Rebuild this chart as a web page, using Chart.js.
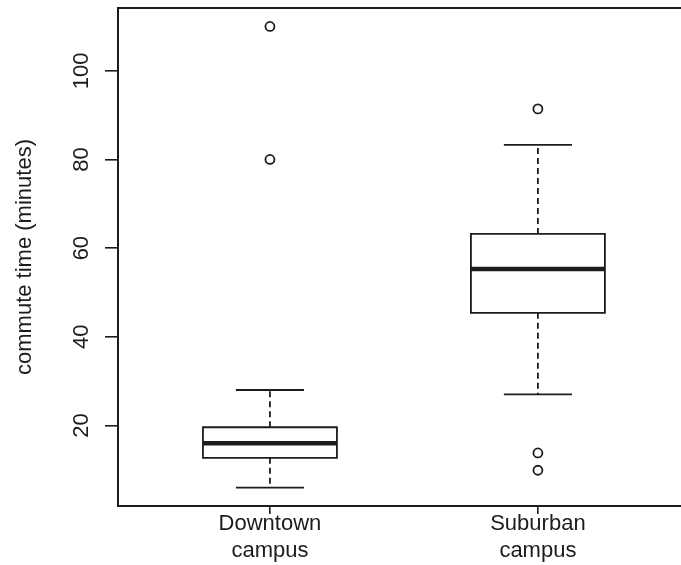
<!DOCTYPE html>
<html><head><meta charset="utf-8">
<script src="https://cdn.jsdelivr.net/npm/chart.js@4/dist/chart.umd.min.js"></script>
<style>html,body{margin:0;padding:0;background:#fff}#c{display:block}</style>
</head><body>
<canvas id="c" width="681" height="565"></canvas>
<script>
// ---- data ----
const categories = [["Downtown", "campus"], ["Suburban", "campus"]];
const lowerWhisker = [6, 27];
const q1 = [12.7, 45.4];
const median = [16, 55.3];
const q3 = [19.6, 63.2];
const upperWhisker = [28, 83.3];
const outliers = [[80, 110], [9.9, 13.8, 91.4]];
const yTicks = [20, 40, 60, 80, 100];
const yTitle = "commute time (minutes)";

// ---- styling ----
const BOX_HALF = 0.25, CAP_HALF = 0.127;
const INK = '#1c1c1c';
const FONT = "'Liberation Sans', Arial, Helvetica, sans-serif";
const X_MIN = 0.433, X_MAX = 2.534, Y_MIN = 1.84, Y_MAX = 114.16;

const boxPts = [], medPts = [], whiskPts = [], capPts = [], outPts = [];
categories.forEach((_, i) => {
  const c = i + 1;
  boxPts.push({x: c - BOX_HALF, y: q1[i]}, {x: c + BOX_HALF, y: q1[i]},
              {x: c + BOX_HALF, y: q3[i]}, {x: c - BOX_HALF, y: q3[i]},
              {x: c - BOX_HALF, y: q1[i]}, {x: c, y: null});
  medPts.push({x: c - BOX_HALF, y: median[i]}, {x: c + BOX_HALF, y: median[i]}, {x: c, y: null});
  whiskPts.push({x: c, y: q3[i]}, {x: c, y: upperWhisker[i]}, {x: c, y: null},
                {x: c, y: q1[i]}, {x: c, y: lowerWhisker[i]}, {x: c, y: null});
  capPts.push({x: c - CAP_HALF, y: upperWhisker[i]}, {x: c + CAP_HALF, y: upperWhisker[i]}, {x: c, y: null},
              {x: c - CAP_HALF, y: lowerWhisker[i]}, {x: c + CAP_HALF, y: lowerWhisker[i]}, {x: c, y: null});
  outliers[i].forEach(v => outPts.push({x: c, y: v}));
});

const lineBase = {pointRadius: 0, borderColor: INK, fill: false, tension: 0, spanGaps: false,
                  borderCapStyle: 'square', borderJoinStyle: 'miter'};

new Chart(document.getElementById('c'), {
  type: 'line',
  data: {
    datasets: [
      Object.assign({}, lineBase, {data: whiskPts, borderWidth: 1.8, borderDash: [6, 4], borderCapStyle: 'butt'}),
      Object.assign({}, lineBase, {data: capPts, borderWidth: 1.8, borderCapStyle: 'butt'}),
      Object.assign({}, lineBase, {data: boxPts, borderWidth: 1.8}),
      Object.assign({}, lineBase, {data: medPts, borderWidth: 4.5, borderCapStyle: 'butt'}),
      {data: outPts, showLine: false, pointStyle: 'circle', pointRadius: 4.5, pointBorderWidth: 1.8,
       pointBorderColor: INK, pointBackgroundColor: '#fff', borderColor: INK, backgroundColor: '#fff'}
    ]
  },
  options: {
    responsive: false,
    animation: false,
    events: [],
    layout: {padding: 0, autoPadding: false},
    plugins: {legend: {display: false}, tooltip: {enabled: false}},
    scales: {
      x: {
        type: 'linear', position: 'bottom', min: X_MIN, max: X_MAX,
        afterBuildTicks: s => { s.ticks = categories.map((_, i) => ({value: i + 1})); },
        afterFit: s => { s.height = 59; s.paddingLeft = 0; s.paddingRight = 0; },
        ticks: {callback: v => categories[v - 1], color: INK, font: {family: FONT, size: 22},
                padding: -3, autoSkip: false, maxRotation: 0, minRotation: 0},
        grid: {drawOnChartArea: false, drawTicks: true, tickLength: 8, color: INK, lineWidth: 1.6},
        border: {display: true, color: INK, width: 2}
      },
      xTop: {
        type: 'linear', position: 'top', min: X_MIN, max: X_MAX,
        afterFit: s => { s.height = 8; s.paddingLeft = 0; s.paddingRight = 0; },
        ticks: {display: false}, grid: {display: false},
        border: {display: true, color: INK, width: 2}
      },
      y: {
        type: 'linear', position: 'left', min: Y_MIN, max: Y_MAX,
        afterBuildTicks: s => { s.ticks = yTicks.map(v => ({value: v})); },
        afterFit: s => { s.width = 118; s.paddingTop = 0; s.paddingBottom = 0; },
        ticks: {color: INK, font: {family: FONT, size: 22}, minRotation: 90, maxRotation: 90,
                crossAlign: 'center', padding: 5},
        grid: {drawOnChartArea: false, drawTicks: true, tickLength: 13, color: INK, lineWidth: 1.6},
        border: {display: true, color: INK, width: 2},
        title: {display: true, text: yTitle, color: INK, font: {family: FONT, size: 22},
                padding: {top: 12, bottom: 0}}
      }
    }
  }
});
</script>
</body></html>
